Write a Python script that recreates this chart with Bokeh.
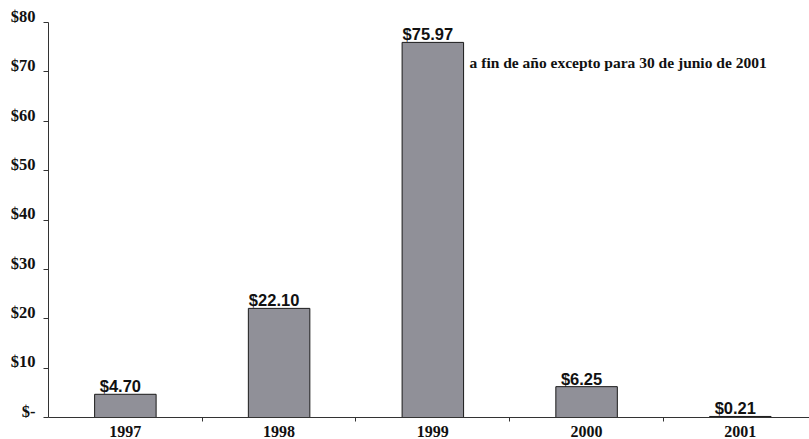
from bokeh.plotting import figure
from bokeh.models import ColumnDataSource, Range1d, FixedTicker, Label
from bokeh.core.properties import value
from bokeh.embed import file_html
from bokeh.resources import INLINE

# Year-end values (2001: as of June 30)
years = ["1997", "1998", "1999", "2000", "2001"]
values = [4.70, 22.10, 75.97, 6.25, 0.21]
value_labels = ["$4.70", "$22.10", "$75.97", "$6.25", "$0.21"]
y_ticks = [0, 10, 20, 30, 40, 50, 60, 70, 80]
y_tick_labels = ["$-", "$10", "$20", "$30", "$40", "$50", "$60", "$70", "$80"]
note = "a fin de año excepto para 30 de junio de 2001"

idx = list(range(len(years)))
src = ColumnDataSource(dict(x=idx, top=values, label=value_labels))

p = figure(frame_width=761, frame_height=395, output_backend="svg", toolbar_location=None,
           x_range=Range1d(-0.5, 4.45), y_range=Range1d(0, 80),
           min_border_left=48, min_border_right=0, min_border_top=22, min_border_bottom=0)
p.outline_line_color = None
p.grid.grid_line_color = None
p.background_fill_color = "white"
p.border_fill_color = "white"

p.vbar(x="x", top="top", width=0.40, bottom=0, source=src,
       fill_color="#909098", line_color="#1a1a1a", line_width=1)

p.text(x="x", y="top", text="label", source=src,
       text_font=value("Liberation Sans"), text_font_style="bold",
       text_font_size="16.5px", text_align="center", text_baseline="bottom",
       x_offset=-5, y_offset=1, text_color="#111111")

p.add_layout(Label(x=2.2, y=72, text=note, x_offset=6,
                   text_font="Liberation Serif", text_font_style="bold",
                   text_font_size="15.5px", text_baseline="middle", text_color="#111111"))

# x axis: year labels at bar centres, tick marks between categories
p.xaxis.ticker = FixedTicker(ticks=idx, minor_ticks=[0.5, 1.5, 2.5, 3.5])
p.xaxis.major_label_overrides = {i: y for i, y in zip(idx, years)}
p.xaxis.major_tick_out = 0
p.xaxis.major_tick_in = 0
p.xaxis.minor_tick_out = 4
p.xaxis.minor_tick_in = 0
p.xaxis.minor_tick_line_color = "#333333"
p.xaxis.axis_line_color = "#333333"
p.xaxis.major_label_standoff = 4
p.xaxis.major_label_text_font = "Liberation Serif"
p.xaxis.major_label_text_font_style = "bold"
p.xaxis.major_label_text_font_size = "16px"
p.xaxis.major_label_text_color = "#111111"

# y axis: dollar ticks; a trailing blank line lifts each label above its tick
p.yaxis.ticker = FixedTicker(ticks=y_ticks, minor_ticks=[])
p.yaxis.major_label_overrides = {t: l + "\n" for t, l in zip(y_ticks, y_tick_labels)}
p.yaxis.major_label_text_line_height = 0.65
p.yaxis.major_tick_out = 5
p.yaxis.major_tick_in = 0
p.yaxis.major_tick_line_color = "#333333"
p.yaxis.axis_line_color = "#333333"
p.yaxis.major_label_standoff = 8
p.yaxis.major_label_text_font = "Liberation Serif"
p.yaxis.major_label_text_font_style = "bold"
p.yaxis.major_label_text_font_size = "16.5px"
p.yaxis.major_label_text_color = "#111111"

open("out.html", "w").write(file_html(p, INLINE))
